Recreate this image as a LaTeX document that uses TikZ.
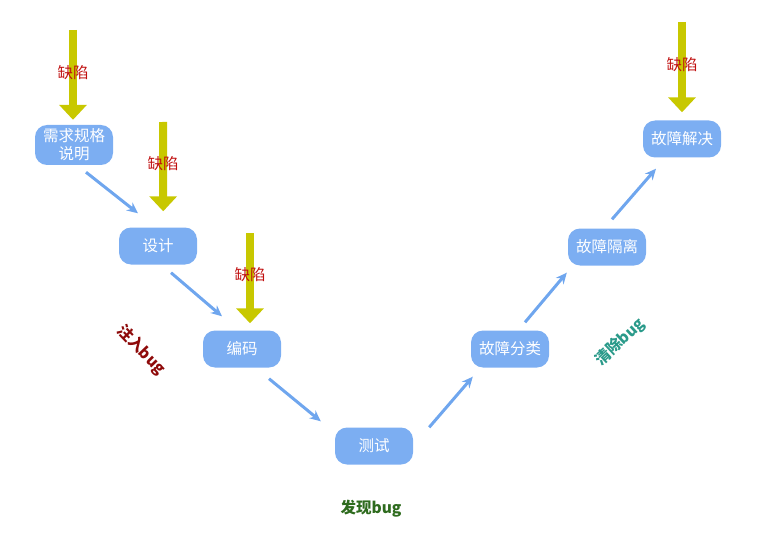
\documentclass[tikz,border=0pt]{standalone}
\usepackage{fontspec}
\newfontfamily\cjk{Noto Sans CJK SC}
\usetikzlibrary{arrows.meta,calc}
\definecolor{boxblue}{HTML}{7CAEF2}
\definecolor{lineblue}{HTML}{6FA6EE}
\definecolor{bugyellow}{HTML}{C8C800}
\definecolor{bugred}{HTML}{C01010}
\definecolor{injectred}{HTML}{8E0A0A}
\definecolor{clearteal}{HTML}{2A9A8A}
\definecolor{foundgreen}{HTML}{2E6B1E}
\begin{document}
\begin{tikzpicture}[x=1pt, y=-1pt, font=\cjk]

        % Define custom styles for the V layout
        \tikzset{
          phase/.style={rectangle, rounded corners=12pt, fill=boxblue, text=white,
            minimum width=78pt, minimum height=37pt, align=center, inner sep=2pt,
            font=\cjk\fontsize{15.5}{18}\selectfont},
          flow/.style={-{Stealth[length=11pt, width=10pt]}, lineblue, line width=3pt},
          defect/.style={-{Triangle[length=15pt, width=27pt]}, bugyellow, line width=8pt},
          defectlabel/.style={text=bugred, font=\cjk\fontsize{15.5}{18}\selectfont},
          buglabel/.style={font=\cjk\fontsize{15.5}{18}\selectfont\bfseries}
        }
        \useasboundingbox (0,0) rectangle (757,548);

        % Phases of the V
        \node[phase, minimum height=40pt] (req) at (74,145) {需求规格\\说明};
        \node[phase] (design) at (158,246) {设计};
        \node[phase] (coding) at (242,349) {编码};
        \node[phase] (test) at (374,446) {测试};
        \node[phase] (classify) at (510,349) {故障分类};
        \node[phase] (isolate) at (607,247) {故障隔离};
        \node[phase] (solve) at (682,139) {故障解决};

        % Flow between phases
        \draw[flow] ($(req.south)+(12,7)$) -- ($(design.north)+(-20,-14)$);
        \draw[flow] ($(design.south)+(13,8)$) -- ($(coding.north)+(-20,-14)$);
        \draw[flow] ($(coding.south)+(27,11)$) -- ($(test.north west)+(-14,-6)$);
        \draw[flow] ($(test.north east)+(16,0)$) -- ($(classify.south west)+(2,9)$);
        \draw[flow] ($(classify.north)+(15,-8)$) -- ($(isolate.south west)+(-1,7)$);
        \draw[flow] ($(isolate.north)+(5,-9)$) -- ($(solve.south)+(-26,11)$);

        % Defects coming in
        \coordinate (d1) at (73,30);
        \coordinate (d2) at (163,122);
        \coordinate (d3) at (250,233);
        \coordinate (d4) at (682,22);
        \draw[defect] (d1) -- ($(req.north)+(-1,-5)$);
        \draw[defect] (d2) -- ($(design.north east)+(-34,-16)$);
        \draw[defect] (d3) -- ($(coding.north)+(8,-7)$);
        \draw[defect] (d4) -- ($(solve.north)+(0,-8)$);
        \node[defectlabel] (l1) at (73,73) {缺陷};
        \node[defectlabel] (l2) at (163,164) {缺陷};
        \node[defectlabel] (l3) at (250,275) {缺陷};
        \node[defectlabel] (l4) at (682,65) {缺陷};

        % Annotations
        \node[buglabel, text=injectred, rotate=-46] (inject) at (141,350) {注入bug};
        \node[buglabel, text=foundgreen] (found) at (371,509) {发现bug};
        \node[buglabel, text=clearteal, rotate=43] (clear) at (620,342) {清除bug};

\end{tikzpicture}
\end{document}
